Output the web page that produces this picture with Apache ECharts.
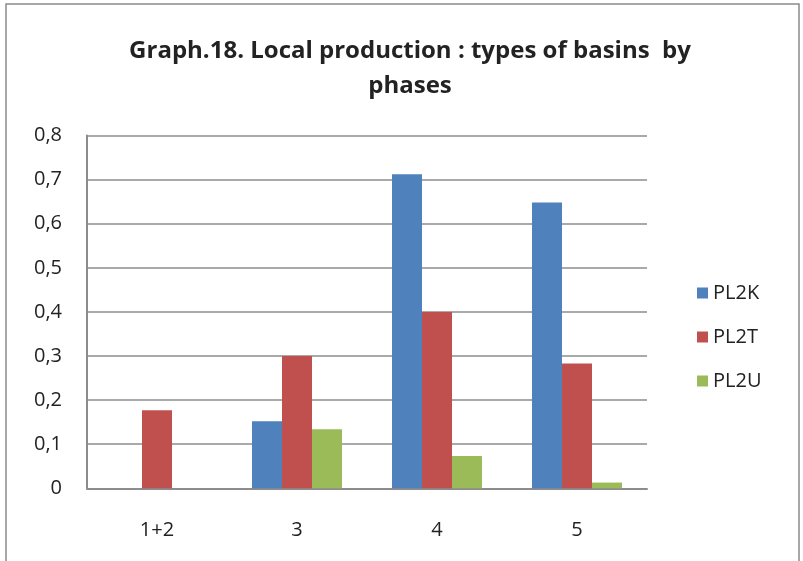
<!DOCTYPE html>
<html>
<head>
<meta charset="utf-8">
<script src="https://cdn.jsdelivr.net/npm/echarts@6/dist/echarts.min.js"></script>
<style>
  html, body { margin: 0; padding: 0; background: #fff; }
  #main { width: 803px; height: 561px; }
</style>
</head>
<body>
<div id="main"></div>
<script>
// 数据
const phases = ['1+2', '3', '4', '5'];
const pl2k = [0, 0.152, 0.712, 0.648];
const pl2t = [0.177, 0.300, 0.400, 0.283];
const pl2u = [0, 0.134, 0.073, 0.013];

const myChart = echarts.init(document.getElementById('main'));

const option = {
    backgroundColor: '#fff',
    title: {
        text: 'Graph.18. Local production : types of basins  by\nphases',
        left: 405,
        top: 29,
        textAlign: 'center',
        textStyle: {
            fontFamily: 'Open Sans',
            fontWeight: 'bold',
            fontSize: 24,
            lineHeight: 35,
            color: '#222'
        }
    },
    graphic: [{
        type: 'rect',
        shape: { x: 6, y: 4, width: 793, height: 562 },
        style: { fill: 'none', stroke: '#8a8a8a', lineWidth: 1.5 },
        silent: true
    }],
    legend: {
        orient: 'vertical',
        left: 692,
        top: 278,
        itemWidth: 11,
        itemHeight: 11,
        itemGap: 24,
        icon: 'rect',
        textStyle: { fontFamily: 'Open Sans', fontSize: 20, color: '#222' },
        data: ['PL2K', 'PL2T', 'PL2U']
    },
    grid: {
        left: 87,
        right: 156,
        top: 135.5,
        bottom: 72.7,
        containLabel: false
    },
    xAxis: {
        type: 'category',
        data: phases,
        axisLine: { lineStyle: { color: '#8c8c8c', width: 2 } },
        axisTick: { show: false },
        axisLabel: { fontFamily: 'Open Sans', fontSize: 20, color: '#222', margin: 32 }
    },
    yAxis: {
        type: 'value',
        min: 0,
        max: 0.8,
        interval: 0.1,
        axisLine: { show: true, lineStyle: { color: '#8c8c8c', width: 2 } },
        axisTick: { show: false },
        splitLine: { lineStyle: { color: '#8c8c8c', width: 1.5 } },
        axisLabel: {
            fontFamily: 'Open Sans',
            fontSize: 20,
            color: '#222',
            margin: 25,
            formatter: v => v === 0 ? '0' : v.toFixed(1).replace('.', ',')
        }
    },
    series: [
        { name: 'PL2K', type: 'bar', data: pl2k, barWidth: 30, barGap: '0%', itemStyle: { color: '#4F81BD' } },
        { name: 'PL2T', type: 'bar', data: pl2t, barWidth: 30, barGap: '0%', itemStyle: { color: '#C0504D' } },
        { name: 'PL2U', type: 'bar', data: pl2u, barWidth: 30, barGap: '0%', itemStyle: { color: '#9BBB59' } }
    ]
};

myChart.setOption(option);
</script>
</body>
</html>
